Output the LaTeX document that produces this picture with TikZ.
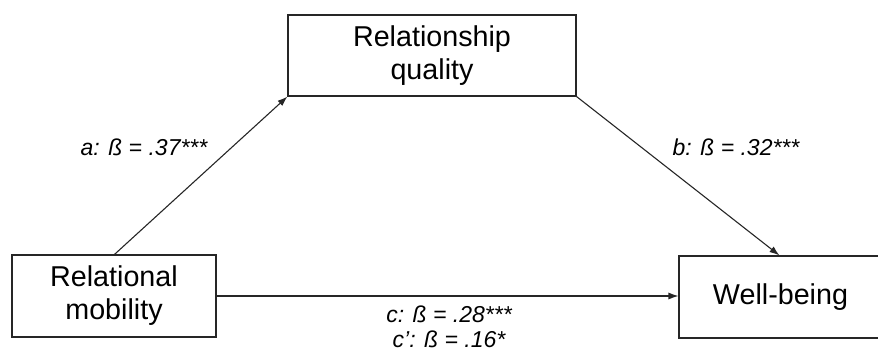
\documentclass[tikz,border=0pt]{standalone}
\usepackage{fontspec}
\setmainfont{Liberation Sans}
\usetikzlibrary{arrows.meta,calc}
\begin{document}
\begin{tikzpicture}[x=1pt,y=-1pt,
  box/.style={draw=black!85,line width=1.1pt,rectangle,inner sep=0pt,align=center,
    font=\fontsize{28.7}{33}\selectfont,text=black},
  conn/.style={draw=black!85,line width=1.1pt,-{Latex[length=10pt,width=7pt]}},
  lab/.style={font=\fontsize{23}{27}\selectfont\itshape,text=black,inner sep=0pt,anchor=base}]
\useasboundingbox (0,0) rectangle (878,353);
\clip (0,0) rectangle (878,353);
\node[box,minimum width=288pt,minimum height=81pt] (rq) at (432,55.5) {Relationship\\quality};
\node[box,minimum width=204pt,minimum height=82pt] (rm) at (114,296) {Relational\\mobility};
\node[box,minimum width=203pt,minimum height=82pt] (wb) at (780.5,297) {Well-being};
\coordinate (astart) at ($(rm.north west)+(103,0)$);
\coordinate (bend) at ($(wb.north west)+(101,0)$);
\draw[conn] (astart) -- (rq.south west);
\draw[conn] (rq.south east) -- (bend);
\draw[conn] (rm.east) -- (rm.east -| wb.west);
\node[lab] (la) at (144,155) {a: ß = .37***};
\node[lab] (lb) at (736,155) {b: ß = .32***};
\node[lab] (lc) at (449,322) {c: ß = .28***};
\node[lab] (lc2) at (449,347.5) {c’: ß = .16*};
\end{tikzpicture}
\end{document}
